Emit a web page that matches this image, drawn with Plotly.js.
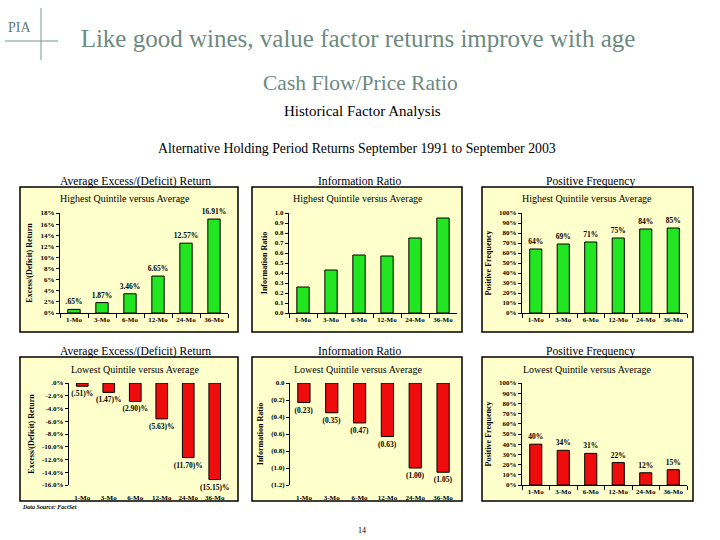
<!DOCTYPE html>
<html>
<head>
<meta charset="utf-8">
<script src="https://cdn.plot.ly/plotly-3.0.1.min.js"></script>
<style>html,body{margin:0;padding:0;background:#fff;}#chart{width:720px;height:540px;}</style>
</head>
<body>
<div id="chart"></div>
<script>
// ---------- data ----------
const categories = ['1-Mo', '3-Mo', '6-Mo', '12-Mo', '24-Mo', '36-Mo'];

const highReturn = [0.65, 1.87, 3.46, 6.65, 12.57, 16.91];
const highReturnLabels = ['.65%', '1.87%', '3.46%', '6.65%', '12.57%', '16.91%'];
const highIR = [0.26, 0.43, 0.58, 0.57, 0.75, 0.95];
const highFreq = [64, 69, 71, 75, 84, 85];
const highFreqLabels = ['64%', '69%', '71%', '75%', '84%', '85%'];

const lowReturn = [-0.51, -1.47, -2.90, -5.63, -11.70, -15.15];
const lowReturnLabels = ['(.51)%', '(1.47)%', '(2.90)%', '(5.63)%', '(11.70)%', '(15.15)%'];
const lowIR = [-0.23, -0.35, -0.47, -0.63, -1.00, -1.05];
const lowIRLabels = ['(0.23)', '(0.35)', '(0.47)', '(0.63)', '(1.00)', '(1.05)'];
const lowFreq = [40, 34, 31, 22, 12, 15];
const lowFreqLabels = ['40%', '34%', '31%', '22%', '12%', '15%'];

// tick labels
const highReturnTickVals = [0, 2, 4, 6, 8, 10, 12, 14, 16, 18];
const highReturnTickText = ['0%', '2%', '4%', '6%', '8%', '10%', '12%', '14%', '16%', '18%'];
const lowReturnTickVals = [0, -2, -4, -6, -8, -10, -12, -14, -16];
const lowReturnTickText = ['.0%', '-2.0%', '-4.0%', '-6.0%', '-8.0%', '-10.0%', '-12.0%', '-14.0%', '-16.0%'];
const highIRTickVals = [0, 0.1, 0.2, 0.3, 0.4, 0.5, 0.6, 0.7, 0.8, 0.9, 1.0];
const highIRTickText = ['0.0', '0.1', '0.2', '0.3', '0.4', '0.5', '0.6', '0.7', '0.8', '0.9', '1.0'];
const lowIRTickVals = [0, -0.2, -0.4, -0.6, -0.8, -1.0, -1.2];
const lowIRTickText = ['0.0', '(0.2)', '(0.4)', '(0.6)', '(0.8)', '(1.0)', '(1.2)'];
const freqTickVals = [0, 10, 20, 30, 40, 50, 60, 70, 80, 90, 100];
const freqTickText = ['0%', '10%', '20%', '30%', '40%', '50%', '60%', '70%', '80%', '90%', '100%'];

// ---------- style ----------
const FONT = "'Liberation Serif', 'Times New Roman', serif";
const GREEN = '#22E622';
const RED = '#EE0C0C';
const BOX = '#FFFFCC';
const TITLEC = '#6C8A7F';
const W = 720, H = 540;
const px = v => v / W;
const py = v => 1 - v / H;

const barText = {family: FONT, size: 7.5, color: '#000', weight: 'bold'};
function bar(y, labels, color, xa, ya) {
  const t = {
    type: 'bar', x: categories, y: y, xaxis: xa, yaxis: ya,
    marker: {color: color, line: {color: '#000', width: 1}},
    cliponaxis: false, hoverinfo: 'skip'
  };
  if (labels) {
    t.text = labels; t.textposition = 'outside'; t.constraintext = 'none';
    t.textfont = barText;
  }
  return t;
}

const data = [
  bar(highReturn, highReturnLabels, GREEN, 'x', 'y'),
  bar(highIR, null, GREEN, 'x2', 'y2'),
  bar(highFreq, highFreqLabels, GREEN, 'x3', 'y3'),
  bar(lowReturn, lowReturnLabels, RED, 'x4', 'y4'),
  bar(lowIR, lowIRLabels, RED, 'x5', 'y5'),
  bar(lowFreq, lowFreqLabels, RED, 'x6', 'y6')
];

const tickFont = {family: FONT, size: 7, color: '#000', weight: 'bold'};
const axTitleFont = {family: FONT, size: 8, color: '#000', weight: 'bold'};

function xCat(domain, anchor, withLine) {
  return {
    domain: domain, anchor: anchor, type: 'category', categoryarray: categories,
    showline: withLine, linecolor: '#000', linewidth: 1,
    ticks: withLine ? 'outside' : '', tickson: 'boundaries', ticklen: 4, tickcolor: '#000',
    tickangle: 0, ticklabelstandoff: withLine ? 0 : 7,
    showgrid: false, zeroline: false, tickfont: tickFont, fixedrange: true
  };
}
function yAx(domain, anchor, range, vals, text, title) {
  return {
    domain: domain, anchor: anchor, range: range,
    tickvals: vals, ticktext: text,
    showline: true, linecolor: '#000', linewidth: 1,
    ticks: 'outside', ticklen: 3, tickcolor: '#000',
    showgrid: false, zeroline: false, tickfont: tickFont, fixedrange: true,
    title: {text: title, font: axTitleFont, standoff: 6}
  };
}
function xTopLine(overlay, anchor) {
  return {
    overlaying: overlay, anchor: anchor, side: 'top', range: [-0.5, 5.5],
    tick0: -0.5, dtick: 1, showticklabels: false,
    showline: true, linecolor: '#000', linewidth: 1,
    ticks: 'outside', ticklen: 3, tickcolor: '#000',
    showgrid: false, zeroline: false, fixedrange: true
  };
}

const topY = [py(313), py(213)];
const botY = [py(485), py(383)];
const dL = [px(60), px(228)], dLb = [px(69), px(228)];
const dM = [px(289), px(457)], dMb = [px(290), px(457)];
const dR = [px(522), px(687)];

function box(x0, x1, y0, y1) {
  return {type: 'rect', xref: 'paper', yref: 'paper', x0: px(x0), x1: px(x1), y0: py(y1), y1: py(y0),
    fillcolor: BOX, line: {color: '#000', width: 1.5}, layer: 'below'};
}
function ann(text, x, y, size, opts) {
  return Object.assign({text: text, xref: 'paper', yref: 'paper', x: px(x), y: py(y),
    xanchor: 'center', yanchor: 'middle', showarrow: false,
    font: {family: FONT, size: size, color: '#000'}}, opts || {});
}

const layout = {
  width: W, height: H,
  margin: {l: 0, r: 0, t: 0, b: 0},
  paper_bgcolor: '#fff', plot_bgcolor: '#fff',
  showlegend: false, bargap: 0.56,
  font: {family: FONT, color: '#000'},
  title: {text: 'Like good wines, value factor returns improve with age',
    x: px(358), xanchor: 'center', xref: 'paper', y: py(38), yanchor: 'middle', yref: 'paper',
    font: {family: FONT, size: 25, color: TITLEC}},
  xaxis: xCat(dL, 'y', true),
  yaxis: yAx(topY, 'x', [0, 18], highReturnTickVals, highReturnTickText, 'Excess/(Deficit) Return'),
  xaxis2: xCat(dM, 'y2', true),
  yaxis2: yAx(topY, 'x2', [0, 1], highIRTickVals, highIRTickText, 'Information Ratio'),
  xaxis3: xCat(dR, 'y3', true),
  yaxis3: yAx(topY, 'x3', [0, 100], freqTickVals, freqTickText, 'Positive Frequency'),
  xaxis4: xCat(dLb, 'y4', false),
  yaxis4: yAx(botY, 'x4', [-16, 0], lowReturnTickVals, lowReturnTickText, 'Excess/(Deficit) Return'),
  xaxis5: xCat(dMb, 'y5', false),
  yaxis5: yAx(botY, 'x5', [-1.2, 0], lowIRTickVals, lowIRTickText, 'Information Ratio'),
  xaxis6: xCat(dR, 'y6', true),
  yaxis6: yAx(botY, 'x6', [0, 100], freqTickVals, freqTickText, 'Positive Frequency'),
  xaxis7: xTopLine('x4', 'y4'),
  xaxis8: xTopLine('x5', 'y5'),
  shapes: [
    box(20, 238, 187, 332), box(252, 462, 187, 332), box(482, 693, 187, 332),
    box(20, 238, 357, 501), box(252, 462, 357, 501), box(482, 693, 357, 501),
    {type: 'line', xref: 'paper', yref: 'paper', x0: px(41), x1: px(41), y0: py(8), y1: py(60),
      line: {color: '#7E958C', width: 1}},
    {type: 'line', xref: 'paper', yref: 'paper', x0: px(5), x1: px(58), y0: py(41), y1: py(41),
      line: {color: '#7E958C', width: 1}}
  ],
  annotations: [
    ann('PIA', 19, 27, 14, {font: {family: FONT, size: 14, color: '#5F7A70'}}),
    ann('Cash Flow/Price Ratio', 360, 83, 21.5, {font: {family: FONT, size: 21.5, color: TITLEC}}),
    ann('Historical Factor Analysis', 362, 111, 15),
    ann('Alternative Holding Period Returns September 1991 to September 2003', 357, 148, 13.8),
    ann('Average Excess/(Deficit) Return', 135, 181, 11.6),
    ann('Information Ratio', 360, 181, 11.6),
    ann('Positive Frequency', 590, 181, 11.6),
    ann('Highest Quintile versus Average', 125, 199, 10),
    ann('Highest Quintile versus Average', 358, 199, 10),
    ann('Highest Quintile versus Average', 587, 199, 10),
    ann('Average Excess/(Deficit) Return', 135, 351, 11.6),
    ann('Information Ratio', 360, 351, 11.6),
    ann('Positive Frequency', 590, 351, 11.6),
    ann('Lowest Quintile versus Average', 135, 369, 10),
    ann('Lowest Quintile versus Average', 358, 369, 10),
    ann('Lowest Quintile versus Average', 587, 369, 10),
    ann('<b><i>Data Source: FactSet</i></b>', 20, 507, 6, {xanchor: 'left'}),
    ann('14', 362, 530, 8)
  ]
};

Plotly.newPlot('chart', data, layout, {staticPlot: true, displayModeBar: false});
</script>
</body>
</html>
